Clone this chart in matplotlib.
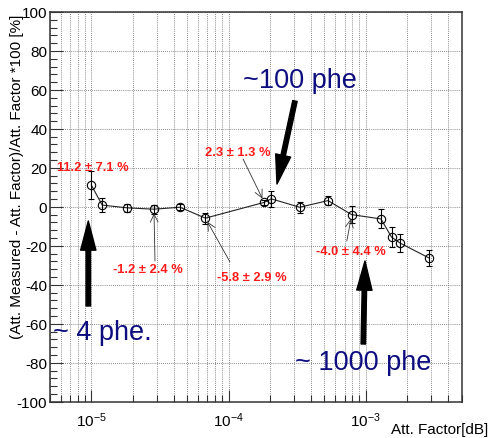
import matplotlib
matplotlib.use("Agg")
import matplotlib.pyplot as plt
from matplotlib.ticker import LogLocator, MultipleLocator, NullFormatter

plt.rcParams['font.family'] = ['Liberation Sans', 'DejaVu Sans']
plt.rcParams['mathtext.fontset'] = 'custom'
plt.rcParams['mathtext.rm'] = 'Liberation Sans'
plt.rcParams['mathtext.it'] = 'Liberation Sans:italic'
plt.rcParams['axes.unicode_minus'] = False

# ---- data ----
att_factor = [1.0e-5, 1.2e-5, 1.82e-5, 2.86e-5, 4.43e-5, 6.78e-5, 1.82e-4, 2.05e-4,
              3.3e-4, 5.3e-4, 7.9e-4, 1.29e-3, 1.54e-3, 1.78e-3, 2.9e-3]
deviation = [11.2, 0.9, -0.5, -1.2, -0.2, -5.8, 2.3, 4.1,
             -0.2, 3.2, -4.0, -6.2, -15.5, -18.6, -26.3]
dev_err = [7.1, 3.7, 2.0, 2.4, 1.5, 2.9, 1.3, 4.0,
           2.7, 2.2, 4.4, 4.9, 5.0, 4.5, 4.0]

# labelled points: (index, text, label position in axes fraction, arrow start)
labels = [
    (0, "11.2 \u00b1 7.1 %", (0.017, 0.602), None),
    (6, "2.3 \u00b1 1.3 %", (0.3765, 0.641), (0.4688, 0.623)),
    (3, "-1.2 \u00b1 2.4 %", (0.153, 0.340), (0.255, 0.361)),
    (5, "-5.8 \u00b1 2.9 %", (0.4056, 0.321), (0.437, 0.359)),
    (10, "-4.0 \u00b1 4.4 %", (0.646, 0.3875), (0.721, 0.412)),
]

phe_notes = [
    ("~100 phe", (0.469, 0.8255), (0.595, 0.7716), (0.5513, 0.5586)),
    ("~ 4 phe.", (0.007, 0.179), (0.093, 0.2456), (0.093, 0.4637)),
    ("~ 1000 phe", (0.595, 0.102), (0.761, 0.148), (0.765, 0.361)),
]

fig = plt.figure(figsize=(4.93, 4.39), dpi=100)
ax = fig.add_axes([50/493, 1-402.7/439, 411.7/493, 389.7/439])

ax.set_xscale('log')
ax.set_xlim(5e-6, 5e-3)
ax.set_ylim(-100, 100)

ax.yaxis.set_major_locator(MultipleLocator(20))
ax.yaxis.set_minor_locator(MultipleLocator(4))
ax.xaxis.set_major_locator(LogLocator(base=10, numticks=10))
ax.xaxis.set_minor_locator(LogLocator(base=10, subs=range(2, 10), numticks=20))
ax.xaxis.set_minor_formatter(NullFormatter())

ax.grid(True, which='major', axis='y', color='#666666', lw=0.6, ls=(0, (1, 1.5)))
ax.grid(True, which='both', axis='x', color='#666666', lw=0.6, ls=(0, (1, 1.5)))
ax.set_axisbelow(True)

ax.tick_params(which='major', direction='in', length=9, width=0.8, labelsize=11,
               top=False, right=False, color='#333333')
ax.tick_params(which='minor', direction='in', length=5, width=0.8,
               top=False, right=False, color='#333333')
ax.tick_params(axis='y', pad=2)
ax.tick_params(axis='x', pad=6)

for s in ax.spines.values():
    s.set_color('#333333')
    s.set_linewidth(1.1)

# data
ax.plot(att_factor, deviation, color='#222222', lw=0.8, zorder=3)
ax.errorbar(att_factor, deviation, yerr=dev_err, fmt='o', mfc='none', mec='black',
            ms=6, mew=0.8, ecolor='black', elinewidth=0.8, capsize=2.5, capthick=0.8,
            zorder=4)

# red labels with thin arrows
for idx, txt, pos, start in labels:
    ax.text(pos[0], pos[1], txt, transform=ax.transAxes, color='#ff1a1a',
            fontsize=9.3, fontweight='bold', ha='left', va='center', zorder=6)
    if start is not None:
        ax.annotate('', xy=(att_factor[idx], deviation[idx]), xycoords='data',
                    xytext=start, textcoords='axes fraction',
                    arrowprops=dict(arrowstyle='->', lw=0.6, color='#333333',
                                    shrinkA=0, shrinkB=3, mutation_scale=14),
                    zorder=5)

# big notes with thick arrows
for txt, tpos, tail, tip in phe_notes:
    ax.text(tpos[0], tpos[1], txt, transform=ax.transAxes, color='#0d0d80',
            fontsize=19.5, ha='left', va='center', zorder=6)
    ax.annotate('', xy=tip, xycoords='axes fraction', xytext=tail,
                textcoords='axes fraction',
                arrowprops=dict(arrowstyle='simple,head_length=2.1,head_width=1.1,tail_width=0.32',
                                mutation_scale=10, color='black', shrinkA=0, shrinkB=0),
                zorder=6)

ax.text(-0.079, 0.995, "(Att. Measured - Att. Factor)/Att. Factor *100 [%]",
        transform=ax.transAxes, rotation=90, ha='center', va='top', fontsize=11)
ax.text(1.064, -0.070, "Att. Factor[dB]", transform=ax.transAxes,
        ha='right', va='center', fontsize=11)

fig.savefig('out.png', dpi=100)
